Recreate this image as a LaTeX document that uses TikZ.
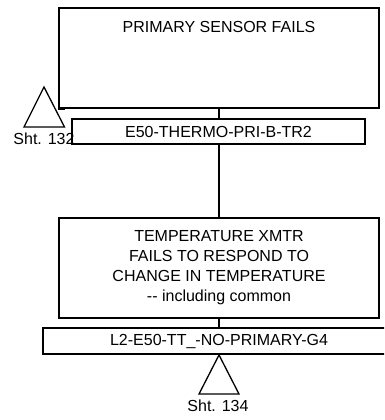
\documentclass[tikz,border=0pt]{standalone}
\usepackage{fontspec}
\setmainfont{Liberation Sans}
\begin{document}
\begin{tikzpicture}[x=1pt,y=-1pt,
  box/.style={draw,line width=1.6pt,rectangle,inner sep=0pt},
  lbl/.style={draw,line width=1.6pt,rectangle,inner sep=0pt,fill=white,font=\fontsize{16}{20}\selectfont},
  txt/.style={font=\fontsize{16}{20}\selectfont,align=center,inner sep=0pt},
  conn/.style={line width=1.6pt},
  tri/.style={line width=1.3pt,line join=miter}]
\useasboundingbox (0,0) rectangle (384,420);
\clip (0,0) rectangle (384,420);
% top event box
\node[box,minimum width=320pt,minimum height=100pt] (b1) at (219,58) {};
\node[txt,anchor=base] (t1) at (219,32.5) {PRIMARY SENSOR FAILS};
\node[lbl,minimum width=293pt,minimum height=25pt] (l1) at (218.5,131.5) {E50-THERMO-PRI-B-TR2};
% lower event box
\node[box,minimum width=320pt,minimum height=100pt] (b2) at (219,268) {};
\node[txt] (t2) at (219,268) {TEMPERATURE XMTR\\FAILS TO RESPOND TO\\CHANGE IN TEMPERATURE\\-{}- including common};
\node[lbl,minimum width=352pt,minimum height=26pt] (l2) at (219,341) {L2-E50-TT\_-NO-PRIMARY-G4};
% connectors
\draw[conn] (b1.south) -- (b1.south |- l1.north);
\draw[conn] (b1.south |- l1.south) -- (b2.north);
\draw[conn] (b2.south) -- (b2.south |- l2.north);
% transfer triangle 1
\coordinate (a1) at (44,87);
\draw[tri] (a1) -- (64.5,127) -- (24,127) -- cycle;
\draw[conn] (b1.south west) -- ++(7,0) coordinate (s1);
\node[txt] (sht1) at (44,138.5) {Sht. 132};
% transfer triangle 2
\coordinate (a2) at (219,355);
\draw[tri] (a2) -- (239,394) -- (199,394) -- cycle;
\node[txt] (sht2) at (218,406) {Sht. 134};
\end{tikzpicture}
\end{document}
